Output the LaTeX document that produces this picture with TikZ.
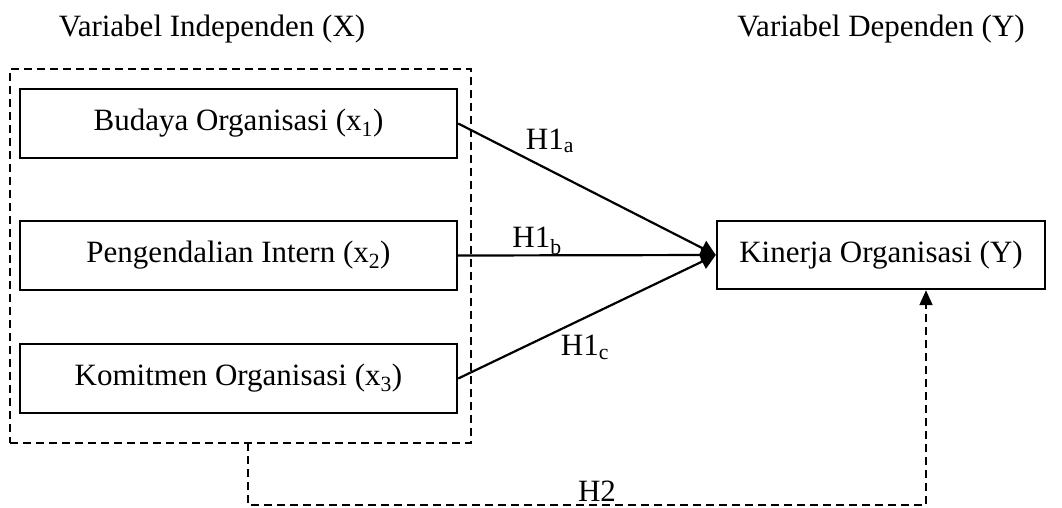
\documentclass[tikz,border=0pt]{standalone}
\usepackage{fontspec}
\setmainfont{Liberation Serif}
\usetikzlibrary{arrows.meta,calc}
\begin{document}
\begin{tikzpicture}[x=1pt,y=1pt,
  every node/.style={font=\fontsize{31}{36}\selectfont, inner sep=0pt},
  varbox/.style={draw, line width=2.4pt, minimum width=437pt, minimum height=69pt},
  groupbox/.style={draw, line width=2pt, dash pattern=on 8pt off 5pt, minimum width=461pt, minimum height=374pt},
  link/.style={line width=2.2pt, -{Triangle[length=15pt,width=16pt]}},
  dlink/.style={line width=2pt, dash pattern=on 8pt off 5pt, -{Triangle[length=15pt,width=13pt]}},
  lbl/.style={}]
\useasboundingbox (0,0) rectangle (1062,-507);
\node (tx) at (212,-29) {Variabel Independen (X)};
\node (ty) at (881,-29) {Variabel Dependen (Y)};
\node[groupbox] (grp) at (240.5,-256) {};
\node[varbox] (b1) at (238.5,-123.5) {Budaya Organisasi (x\textsubscript{1})};
\node[varbox] (b2) at (238.5,-255.5) {Pengendalian Intern (x\textsubscript{2})};
\node[varbox] (b3) at (238.5,-378.5) {Komitmen Organisasi (x\textsubscript{3})};
\node[draw, line width=2.4pt, minimum width=328pt, minimum height=68pt] (ky) at (881,-255) {Kinerja Organisasi (Y)};
\draw[link] (b1.east) -- (ky.west);
\draw[link] (b2.east) -- (ky.west);
\draw[link] (b3.east) -- (ky.west);
\node[lbl] (h1a) at (550,-141) {H1\textsubscript{a}};
\node[lbl] (h1b) at (537,-241) {H1\textsubscript{b}};
\node[lbl] (h1c) at (585,-347) {H1\textsubscript{c}};
\coordinate (s) at (248,-443);
\coordinate (c1) at (248,-505);
\coordinate (c2) at (926,-505);
\coordinate (e) at (926,-289);
\draw[dlink] (s) -- (c1) -- (c2) -- (ky.south -| e);
\node[lbl] (h2) at (597,-491) {H2};
\end{tikzpicture}
\end{document}
